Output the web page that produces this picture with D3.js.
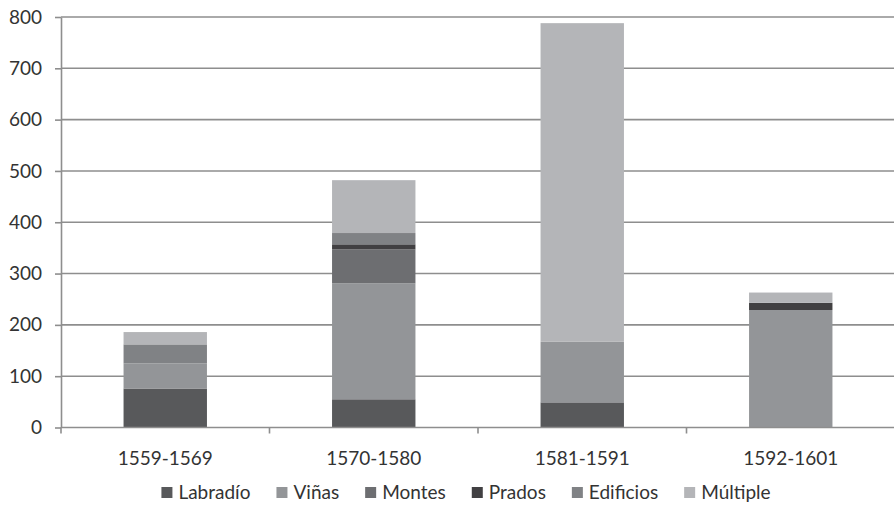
<!DOCTYPE html>
<html>
<head>
<meta charset="utf-8">
<script src="https://cdn.jsdelivr.net/npm/d3@7"></script>
<style>
  html, body { margin: 0; padding: 0; background: #fff; }
  svg { display: block; }
  text { font-family: Lato, "Open Sans", sans-serif; fill: #333; }
</style>
</head>
<body>
<svg id="chart" width="894" height="511"></svg>
<script>
// Periods along the x axis
const periods = ["1559-1569", "1570-1580", "1581-1591", "1592-1601"];
// Land-use categories (stack order, bottom to top)
const categories = ["Labradío", "Viñas", "Montes", "Prados", "Edificios", "Múltiple"];
// Values per category, one per period
const labradio  = [76, 55, 49, 0];
const vinas     = [49, 226, 118, 229];
const montes    = [0, 66, 0, 0];
const prados    = [0, 10, 0, 14];
const edificios = [37, 22, 0, 0];
const multiple  = [24, 103, 621, 20];
const yTicks = [0, 100, 200, 300, 400, 500, 600, 700, 800];

const colors = ["#58595b", "#939598", "#6d6e71", "#414042", "#808285", "#b4b5b8"];

const series = [labradio, vinas, montes, prados, edificios, multiple];
const rows = periods.map((p, i) => {
  const r = { period: p };
  categories.forEach((c, k) => { r[c] = series[k][i]; });
  return r;
});

const svg = d3.select("#chart");
const mLeft = 61, mRight = 895, mTop = 17, mBottom = 427.5;
const FS = 19;

const x = d3.scaleBand().domain(periods).range([mLeft, mRight]).paddingInner(0.6).paddingOuter(0.3);
const xOuter = d3.scaleBand().domain(periods).range([mLeft, mRight]);
const y = d3.scaleLinear().domain([0, 800]).range([mBottom, mTop]);
const color = d3.scaleOrdinal().domain(categories).range(colors);

// Horizontal gridlines
svg.append("g")
  .selectAll("line")
  .data(yTicks.filter(d => d > 0))
  .join("line")
  .attr("x1", mLeft).attr("x2", mRight)
  .attr("y1", d => y(d)).attr("y2", d => y(d))
  .attr("stroke", "#8e8e8e").attr("stroke-width", 1.6);

// Stacked bars
const stacked = d3.stack().keys(categories)(rows);
svg.append("g")
  .selectAll("g")
  .data(stacked)
  .join("g")
  .attr("fill", d => color(d.key))
  .selectAll("rect")
  .data(d => d)
  .join("rect")
  .attr("x", d => x(d.data.period))
  .attr("width", x.bandwidth())
  .attr("y", d => y(d[1]))
  .attr("height", d => y(d[0]) - y(d[1]));

// Y axis
const yAxis = svg.append("g")
  .attr("transform", `translate(${mLeft},0)`)
  .call(d3.axisLeft(y).tickValues(yTicks).tickSize(6).tickSizeOuter(0).tickPadding(13));
yAxis.select(".domain").attr("stroke", "#8e8e8e").attr("stroke-width", 1.6);
yAxis.selectAll(".tick line").attr("stroke", "#8e8e8e").attr("stroke-width", 1.6);
yAxis.selectAll(".tick text").attr("font-size", FS).attr("font-family", "Lato, sans-serif").attr("fill", "#333");

// X axis: baseline with ticks at category boundaries
const xg = svg.append("g");
xg.append("line")
  .attr("x1", mLeft).attr("x2", mRight)
  .attr("y1", mBottom).attr("y2", mBottom)
  .attr("stroke", "#8e8e8e").attr("stroke-width", 1.6);
const bounds = periods.map(p => xOuter(p)).concat([mRight]);
xg.selectAll("line.bt")
  .data(bounds)
  .join("line")
  .attr("class", "bt")
  .attr("x1", d => d).attr("x2", d => d)
  .attr("y1", mBottom).attr("y2", mBottom + 6)
  .attr("stroke", "#8e8e8e").attr("stroke-width", 1.6);
xg.selectAll("text")
  .data(periods)
  .join("text")
  .attr("x", d => xOuter(d) + xOuter.bandwidth() / 2)
  .attr("y", 465)
  .attr("text-anchor", "middle")
  .attr("font-size", FS)
  .text(d => d);

// Legend
const legend = svg.append("g");
const items = legend.selectAll("g")
  .data(categories)
  .join("g");
items.append("rect")
  .attr("width", 11).attr("height", 11)
  .attr("y", -12)
  .attr("fill", d => color(d));
items.append("text")
  .attr("x", 17)
  .attr("y", 0)
  .attr("font-size", FS)
  .text(d => d);
let cx = 0;
const GAP = 26;
items.each(function () {
  const w = this.getBBox().width;
  d3.select(this).attr("transform", `translate(${cx},0)`);
  cx += w + GAP;
});
const total = cx - GAP;
legend.attr("transform", `translate(${466 - total / 2},499)`);
</script>
</body>
</html>
